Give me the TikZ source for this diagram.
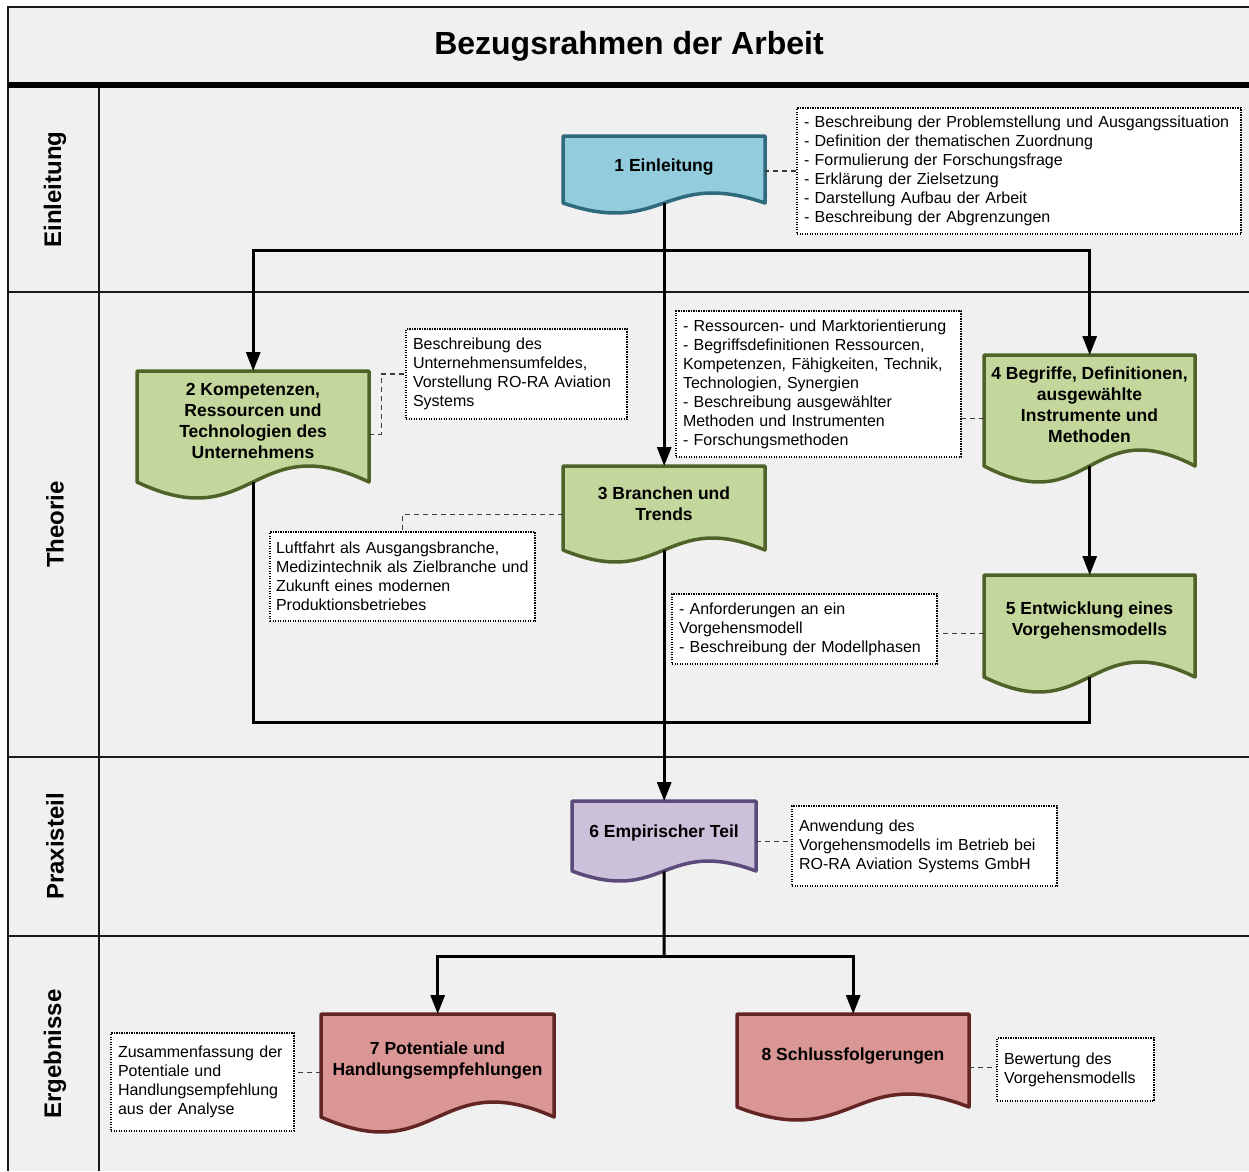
\documentclass[tikz,border=0pt]{standalone}
\usepackage{fontspec}
\setmainfont{Liberation Sans}
\usetikzlibrary{arrows.meta,calc}

\definecolor{lanebg}{HTML}{F0F0F0}
\definecolor{docblue}{HTML}{93CDDD}
\definecolor{docblueline}{HTML}{2F6B7D}
\definecolor{docgreen}{HTML}{C3D69B}
\definecolor{docgreenline}{HTML}{4F6228}
\definecolor{docpurple}{HTML}{CCC1DA}
\definecolor{docpurpleline}{HTML}{5C4A7A}
\definecolor{docred}{HTML}{D99694}
\definecolor{docredline}{HTML}{632523}
\definecolor{noteline}{HTML}{3C3C3C}

% Document-shaped process box: name, style, x0, top, x1, bottom of sides, wave amplitude, text
\newcommand\docnode[8]{%
  \pgfmathsetmacro\dxm{(#3+#5)/2}%
  \pgfmathsetmacro\dcv{#7/0.289}%
  \pgfmathsetmacro\dty{#4+0.43*(#6-#4)+2}%
  \pgfmathsetmacro\dw{#5-#3}%
  \pgfmathsetmacro\dh{#6-#4}%
  \filldraw[#2] (#3,#4) -- (#5,#4) -- (#5,#6)
     .. controls (\dxm,#6-\dcv) and (\dxm,#6+\dcv) .. (#3,#6) -- cycle;
  \node[inner sep=0pt, minimum width=\dw pt, minimum height=\dh pt, anchor=north west] (#1) at (#3,#4) {};
  \node[doctext] (#1t) at (\dxm,\dty) {#8};
}

\begin{document}
\begin{tikzpicture}[x=1pt,y=-1pt,
  frameline/.style={line width=1.3pt, draw=black!90},
  lanelabel/.style={rotate=90, font=\fontsize{24}{28}\selectfont\bfseries, inner sep=0pt},
  titletext/.style={font=\fontsize{32}{38}\selectfont\bfseries, inner sep=0pt},
  doctext/.style={font=\fontsize{17.5}{21}\selectfont\bfseries, align=center, inner sep=0pt},
  bluedoc/.style={fill=docblue, draw=docblueline, line width=3.5pt, line join=round},
  greendoc/.style={fill=docgreen, draw=docgreenline, line width=3.5pt, line join=round},
  purpledoc/.style={fill=docpurple, draw=docpurpleline, line width=3.5pt, line join=round},
  reddoc/.style={fill=docred, draw=docredline, line width=3.5pt, line join=round},
  note/.style={draw=black, fill=white, line width=1.1pt, dash pattern=on 1.2pt off 1.3pt,
    font=\fontsize{16}{19}\selectfont, align=left, inner xsep=7pt, inner ysep=0pt},
  noteconn/.style={draw=noteline, line width=1.4pt, dash pattern=on 5pt off 4pt},
  flow/.style={draw=black, line width=3pt},
  conn/.style={flow, -{Triangle[length=19pt,width=14pt]}},
]
\useasboundingbox (0,0) rectangle (1249,1171);
\fill[white] (0,0) rectangle (1249,1171);
\fill[lanebg] (8,7) rectangle (1249,1171);

% frame, title band and swimlanes
\draw[frameline] (1249,7) -- (8,7) -- (8,1171);
\draw[frameline] (99,85) -- (99,1171);
\draw[frameline] (8,292) -- (1249,292);
\draw[frameline] (8,757) -- (1249,757);
\draw[frameline] (8,936) -- (1249,936);
\draw[line width=6pt] (8,85) -- (1249,85);

\node[titletext] (title) at (629,46) {Bezugsrahmen der Arbeit};

\node[lanelabel] (lane1) at (55,189.5) {Einleitung};
\node[lanelabel] (lane2) at (55,524.5) {Theorie};
\node[lanelabel] (lane3) at (55,846.5) {Praxisteil};
\node[lanelabel] (lane4) at (55,1054) {Ergebnisse};

% junction points of the flow lines
\coordinate (j1) at (664,250);
\coordinate (loop) at (664,722);
\coordinate (j3) at (664,956);

% process boxes
\docnode{n1}{bluedoc}{563}{136}{765}{203}{10}{1 Einleitung}
\docnode{n2}{greendoc}{137}{371}{369}{482}{16}{2 Kompetenzen,\\Ressourcen und\\Technologien des\\Unternehmens}
\docnode{n3}{greendoc}{563}{466}{765}{550}{12}{3 Branchen und\\Trends}
\docnode{n4}{greendoc}{984}{355}{1195}{466}{16}{4 Begriffe, Definitionen,\\ausgewählte\\Instrumente und\\Methoden}
\docnode{n5}{greendoc}{984}{575}{1195}{677}{15}{5 Entwicklung eines\\Vorgehensmodells}
\docnode{n6}{purpledoc}{572}{801}{756}{871}{10}{6 Empirischer Teil}
\docnode{n7}{reddoc}{321}{1014}{554}{1117}{15}{7 Potentiale und\\Handlungsempfehlungen}
\docnode{n8}{reddoc}{737}{1014}{969}{1107}{13}{8 Schlussfolgerungen}

% flow connectors
\draw[conn] (n1.south) -- (n3.north);
\draw[conn] (j1) -| (n2.north);
\draw[conn] (j1) -| (n4.north);
\draw[conn] (n4.south) -- (n5.north);
\draw[flow] (n2.south) |- (loop) -| (n5.south);
\draw[conn] (n3.south) -- (n6.north);
\draw[flow] (n6.south) -- (j3);
\draw[conn] (j3) -| (n7.north);
\draw[conn] (j3) -| (n8.north);

% annotation boxes
\node[note, text width=430pt, minimum height=126pt] (a1) at (1019,171)
  {- Beschreibung der Problemstellung und Ausgangssituation\\
   - Definition der thematischen Zuordnung\\
   - Formulierung der Forschungsfrage\\
   - Erklärung der Zielsetzung\\
   - Darstellung Aufbau der Arbeit\\
   - Beschreibung der Abgrenzungen};
\node[note, text width=207pt, minimum height=90pt] (a2) at (516.5,374)
  {Beschreibung des\\Unternehmensumfeldes,\\Vorstellung RO-RA Aviation\\Systems};
\node[note, text width=271pt, minimum height=146pt] (a3) at (818.5,384)
  {- Ressourcen- und Marktorientierung\\
   - Begriffsdefinitionen Ressourcen,\\
   Kompetenzen, Fähigkeiten, Technik,\\
   Technologien, Synergien\\
   - Beschreibung ausgewählter\\
   Methoden und Instrumenten\\
   - Forschungsmethoden};
\node[note, text width=253pt, minimum height=89pt, inner xsep=6pt] (a4) at (402.5,576.5)
  {Luftfahrt als Ausgangsbranche,\\Medizintechnik als Zielbranche und\\Zukunft eines modernen\\Produktionsbetriebes};
\node[note, text width=251pt, minimum height=70pt] (a5) at (804.5,629)
  {- Anforderungen an ein\\Vorgehensmodell\\- Beschreibung der Modellphasen};
\node[note, text width=251pt, minimum height=80pt] (a6) at (924.5,846)
  {Anwendung des\\Vorgehensmodells im Betrieb bei\\RO-RA Aviation Systems GmbH};
\node[note, text width=169pt, minimum height=98pt] (a7) at (202.5,1082)
  {Zusammenfassung der\\Potentiale und\\Handlungsempfehlung\\aus der Analyse};
\node[note, text width=143pt, minimum height=63pt] (a8) at (1075.5,1069.5)
  {Bewertung des\\Vorgehensmodells};

% dashed annotation links
\draw[noteconn] (a1.west) -- (a1.west -| n1.east);
\draw[noteconn] ($(n2.east)+(0,7.5)$) -- ++(12,0) |- (a2.west);
\coordinate (n4p) at ($(n4.west)+(0,7.5)$);
\draw[noteconn] (n4p) -- (n4p -| a3.east);
\draw[noteconn] ($(n3.west)+(0,6)$) -| (a4.north);
\coordinate (n5p) at ($(n5.west)+(0,7)$);
\draw[noteconn] (n5p) -- (n5p -| a5.east);
\coordinate (n6p) at ($(n6.east)+(0,5)$);
\draw[noteconn] (n6p) -- (n6p -| a6.west);
\coordinate (n7p) at ($(n7.west)+(0,6.5)$);
\draw[noteconn] (n7p) -- (n7p -| a7.east);
\coordinate (n8p) at ($(n8.east)+(0,6.5)$);
\draw[noteconn] (n8p) -- (n8p -| a8.west);
\end{tikzpicture}
\end{document}
